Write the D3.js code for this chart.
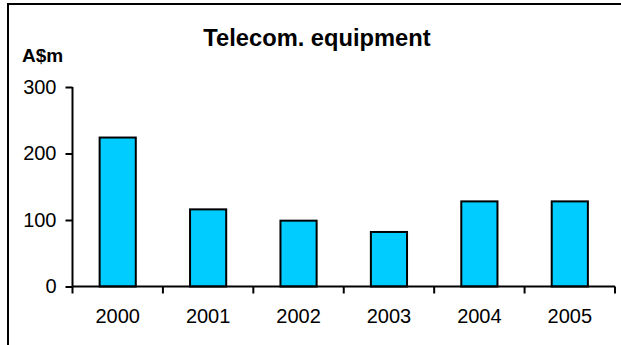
<!DOCTYPE html>
<html>
  <head>
    <meta charset="utf-8">
    <title>Telecom. equipment</title>
    <style>
      body { margin: 0; background: #fff; }
      svg { display: block; font-family: "Liberation Sans", Arial, sans-serif; }
    </style>
    <script src="https://d3js.org/d3.v7.min.js"></script>
  </head>
  <body>
    <script>
        var years = ["2000", "2001", "2002", "2003", "2004", "2005"];
        var values = [224, 116, 99, 82, 128, 128];
        var yTicks = [0, 100, 200, 300];

        var width = 621, height = 345;
        var plotLeft = 72.5, plotRight = 615, plotTop = 87, plotBottom = 286.5;

        var svg = d3.select("body").append("svg")
            .attr("width", width)
            .attr("height", height);

        // outer frame (only top and left edges show)
        svg.append("rect")
            .attr("x", 8).attr("y", 4)
            .attr("width", 800).attr("height", 600)
            .attr("fill", "none")
            .attr("stroke", "#000")
            .attr("stroke-width", 2);

        // one slot per year, bars sit in the middle 40%
        var slot = d3.scaleBand().domain(years).range([plotLeft, plotRight]);
        var y = d3.scaleLinear().domain([0, 300]).range([plotBottom, plotTop]);
        var barW = slot.bandwidth() * 0.4;

        svg.selectAll(".bar").data(values)
            .enter()
            .append("rect")
            .attr("class", "bar")
            .attr("x", function (d, i) { return slot(years[i]) + (slot.bandwidth() - barW) / 2; })
            .attr("y", function (d) { return y(d); })
            .attr("width", barW)
            .attr("height", function (d) { return y(0) - y(d); })
            .style("fill", "#00CCFF")
            .style("stroke", "#000")
            .style("stroke-width", 2);

        // y axis
        var yAxis = svg.append("g")
            .attr("transform", "translate(" + plotLeft + ",0)")
            .call(d3.axisLeft(y).tickValues(yTicks).tickSize(7).tickPadding(9));
        yAxis.selectAll("line, path").attr("stroke", "#000").attr("stroke-width", 2);
        yAxis.select(".domain").attr("d", "M0," + plotTop + "V" + plotBottom);
        yAxis.selectAll("text").attr("font-size", 20).attr("fill", "#000")
            .attr("font-family", "Liberation Sans, Arial, sans-serif");

        // x axis: labels centred in slots, ticks on slot borders
        var xAxis = svg.append("g")
            .attr("transform", "translate(0," + plotBottom + ")")
            .call(d3.axisBottom(slot).tickSize(0).tickPadding(22));
        xAxis.select(".domain").attr("stroke", "#000").attr("stroke-width", 2)
            .attr("d", "M" + plotLeft + ",0H" + plotRight);
        xAxis.selectAll("text").attr("font-size", 20).attr("fill", "#000")
            .attr("font-family", "Liberation Sans, Arial, sans-serif");

        var borders = years.map(function (d) { return slot(d); }).concat([plotRight]);
        xAxis.selectAll(".border").data(borders)
            .enter()
            .append("line")
            .attr("class", "border")
            .attr("x1", function (d) { return d; })
            .attr("x2", function (d) { return d; })
            .attr("y1", 0).attr("y2", 7)
            .attr("stroke", "#000").attr("stroke-width", 2);

        svg.append("text")
            .attr("x", 317).attr("y", 46)
            .attr("text-anchor", "middle")
            .attr("font-size", 23.7).attr("font-weight", "bold")
            .text("Telecom. equipment");

        svg.append("text")
            .attr("x", 22).attr("y", 62)
            .attr("font-size", 19).attr("font-weight", "bold")
            .text("A$m");
    </script>
  </body>
</html>
